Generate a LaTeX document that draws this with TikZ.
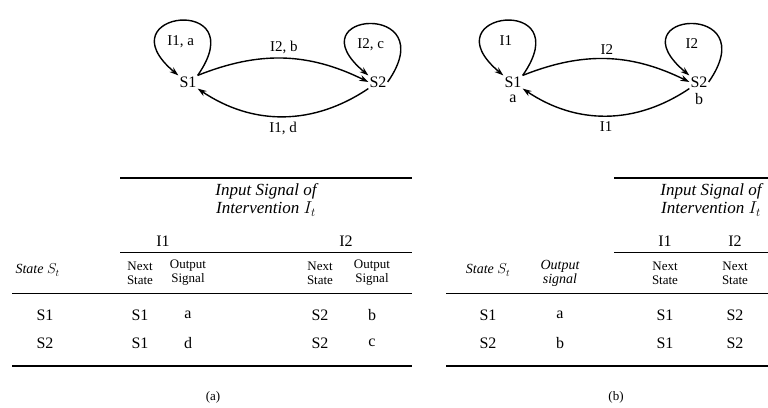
\documentclass[tikz,border=0pt]{standalone}
\usepackage{fontspec}
\setmainfont{Liberation Serif}
\usetikzlibrary{arrows.meta}

\begin{document}
\begin{tikzpicture}[x=1pt, y=1pt,
    state/.style={inner sep=1pt, font=\fontsize{16}{16}\selectfont},
    lbl/.style={font=\fontsize{15}{15}\selectfont, inner sep=1pt},
    arc/.style={-{Stealth[length=9pt, width=6pt]}, line width=1.4pt},
    selfloop/.style={arc, out=55, in=140, distance=100pt},
    cell/.style={font=\fontsize{16}{16}\selectfont},
    head/.style={font=\fontsize{13}{14}\selectfont, align=center},
    ihead/.style={font=\fontsize{14}{14}\selectfont\itshape, align=center},
    title/.style={font=\fontsize{17}{18}\selectfont\itshape, align=center},
    thickrule/.style={line width=2.2pt},
    thinrule/.style={line width=0.9pt}
]
\useasboundingbox (0,0) rectangle (768,-407);

% State diagram (a)
\node[state] (s1a) at (188,-82) {S1};
\node[state] (s2a) at (378,-82) {S2};
\draw[selfloop] (s1a.north east) to node[lbl, below=13pt] {I1, a} (s1a.north west);
\draw[selfloop] (s2a.east) to node[lbl, below=13pt] {I2, c} (s2a.north west);
\draw[arc] (s1a.north east) to[bend left=24] node[lbl, above=3pt] {I2, b} (s2a.west);
\draw[arc] (s2a.south west) to[bend left=34] node[lbl, below=4pt] {I1, d} (s1a.south east);

% State diagram (b)
\node[state] (s1b) at (513,-82) {S1};
\node[state] (s2b) at (699,-82) {S2};
\node[cell] (outa) at (513,-99) {a};
\node[cell] (outb) at (699,-99) {b};
\draw[selfloop] (s1b.north east) to node[lbl, below=13pt] {I1} (s1b.north west);
\draw[selfloop] (s2b.east) to node[lbl, below=13pt] {I2} (s2b.north west);
\draw[arc] (s1b.north east) to[bend left=24] node[lbl, above=3pt] {I2} (s2b.west);
\draw[arc] (s2b.south west) to[bend left=34] node[lbl, below=4pt] {I1} (s1b.south east);

% Table (a)
\draw[thickrule] (120,-178) -- (412,-178);
\node[title] (tita) at (266,-200) {Input Signal of\\Intervention $I_t$};
\node[cell] (i1a) at (163,-241) {I1};
\node[cell] (i2a) at (346,-241) {I2};
\draw[thinrule] (120,-252) -- (412,-252);
\node[ihead, anchor=west] (sta) at (12,-270) {State $S_t$};
\node[head] (nxa1) at (140,-273) {Next\\State};
\node[head] (opa1) at (188,-273) {Output\\Signal};
\node[head] (nxa2) at (320,-273) {Next\\State};
\node[head] (opa2) at (372,-273) {Output\\Signal};
\draw[thinrule] (12,-293) -- (412,-293);
\node[cell] at (45,-315) {S1};
\node[cell] at (140,-315) {S1};
\node[cell] at (188,-315) {a};
\node[cell] at (320,-315) {S2};
\node[cell] at (372,-315) {b};
\node[cell] at (45,-343) {S2};
\node[cell] at (140,-343) {S1};
\node[cell] at (188,-343) {d};
\node[cell] at (320,-343) {S2};
\node[cell] at (372,-343) {c};
\draw[thickrule] (12,-366) -- (412,-366);
\node[cell, font=\fontsize{13}{13}\selectfont] (capa) at (213,-397) {(a)};

% Table (b)
\draw[thickrule] (614,-178) -- (768,-178);
\node[title] (titb) at (711,-200) {Input Signal of\\Intervention $I_t$};
\node[cell] (i1b) at (665,-241) {I1};
\node[cell] (i2b) at (735,-241) {I2};
\draw[thinrule] (614,-252) -- (768,-252);
\node[ihead] (stb) at (488,-270) {State $S_t$};
\node[ihead] (opb) at (560,-273) {Output\\signal};
\node[head] (nxb1) at (665,-273) {Next\\State};
\node[head] (nxb2) at (735,-273) {Next\\State};
\draw[thinrule] (446,-293) -- (768,-293);
\node[cell] at (488,-315) {S1};
\node[cell] at (560,-315) {a};
\node[cell] at (665,-315) {S1};
\node[cell] at (735,-315) {S2};
\node[cell] at (488,-343) {S2};
\node[cell] at (560,-343) {b};
\node[cell] at (665,-343) {S1};
\node[cell] at (735,-343) {S2};
\draw[thickrule] (446,-366) -- (768,-366);
\node[cell, font=\fontsize{13}{13}\selectfont] (capb) at (616,-397) {(b)};

\end{tikzpicture}
\end{document}
